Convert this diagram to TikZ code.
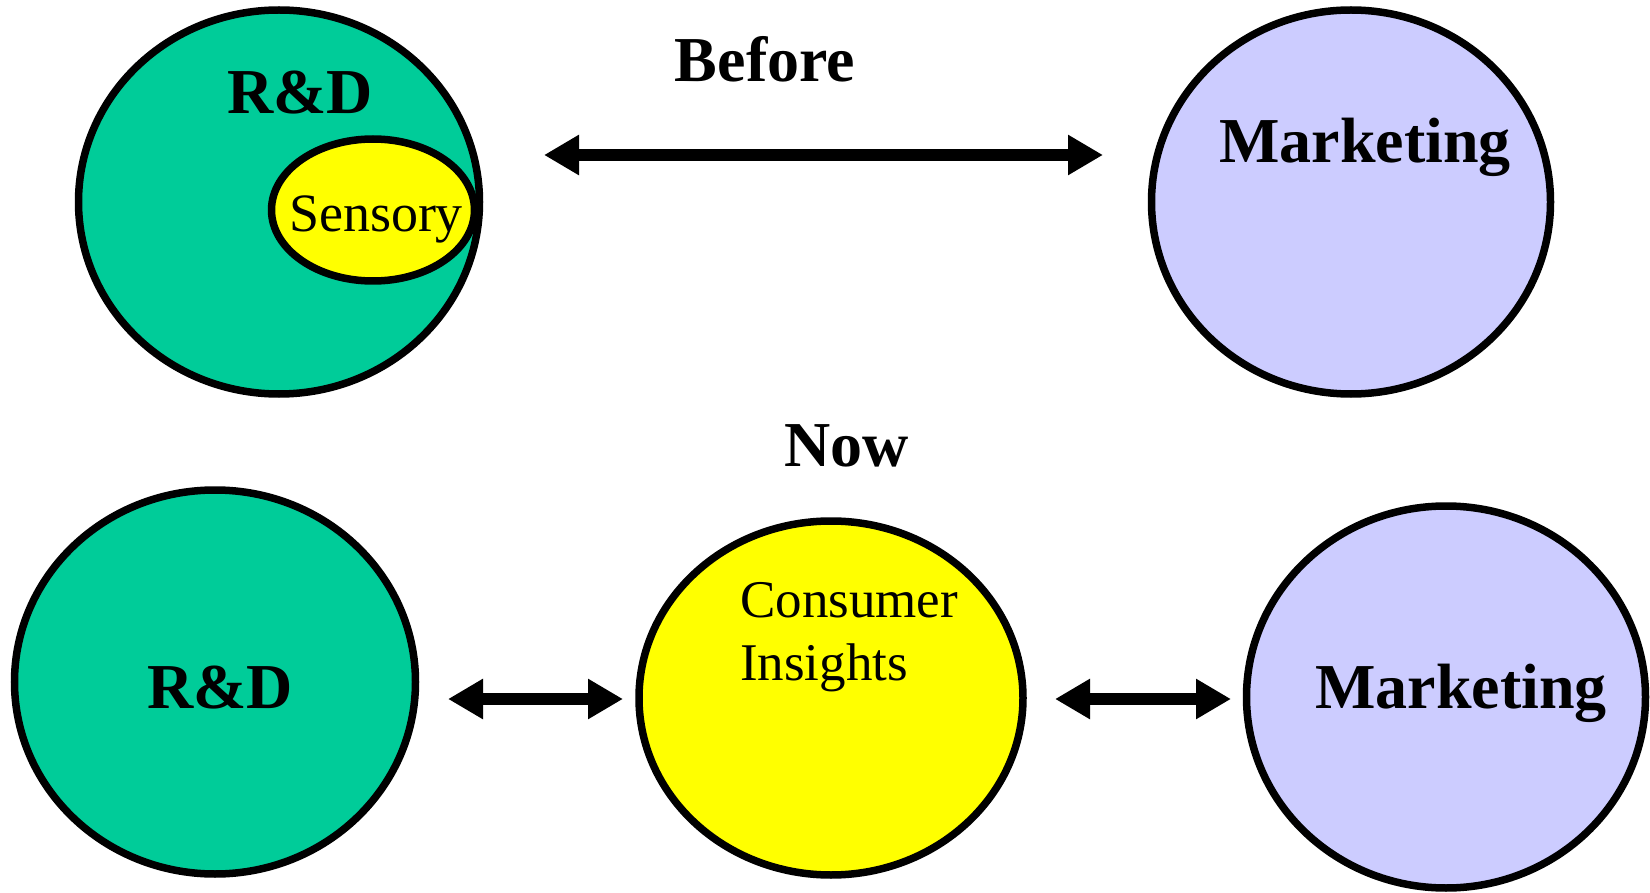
\documentclass[tikz,border=0pt]{standalone}
\usepackage{fontspec}
\setmainfont{Liberation Serif}
\usetikzlibrary{shapes.geometric,arrows.meta}
\definecolor{rdgreen}{HTML}{00CC99}
\definecolor{mklav}{HTML}{CCCCFF}
\definecolor{ciyel}{HTML}{FFFF00}
\tikzset{
  blob/.style={ellipse, draw=black, line width=7.5pt, inner sep=0pt},
  bigtext/.style={anchor=base, inner sep=0pt, font=\fontsize{64}{64}\selectfont\bfseries},
  midtext/.style={anchor=base west, inner sep=0pt, font=\fontsize{53}{63}\selectfont, align=left},
  dblarrow/.style={line width=12pt, {Triangle[length=35pt,width=38pt]}-{Triangle[length=35pt,width=38pt]}}
}
\begin{document}
\begin{tikzpicture}[x=1pt,y=-1pt]
\useasboundingbox (0,0) rectangle (1650,893);
% Before
\node[blob, fill=rdgreen, minimum width=401pt, minimum height=384pt] (rd1) at (279,202) {};
\node[blob, fill=ciyel, minimum width=203pt, minimum height=142pt] (sens) at (373,210) {};
\node[blob, fill=mklav, minimum width=399pt, minimum height=384pt] (mk1) at (1351,202) {};
\node[bigtext] (rd1t) at (300,114) {R\&D};
\node[anchor=base, inner sep=0pt, font=\fontsize{54}{54}\selectfont] (senst) at (376,232) {Sensory};
\node[bigtext] (mk1t) at (1365,163) {Marketing};
\node[bigtext] (before) at (765,82) {Before};
\coordinate (a1l) at (544,155);
\coordinate (a1r) at (1103,155);
\draw[dblarrow] (a1l) -- (a1r);
% Now
\node[bigtext] (now) at (847,466) {Now};
\node[blob, fill=rdgreen, minimum width=401pt, minimum height=384pt] (rd2) at (215,682) {};
\node[blob, fill=ciyel, minimum width=384pt, minimum height=354pt] (ci) at (831,698) {};
\node[blob, fill=mklav, minimum width=399pt, minimum height=382pt] (mk2) at (1446,697) {};
\node[bigtext] (rd2t) at (220,708) {R\&D};
\node[bigtext] (mk2t) at (1461,708) {Marketing};
\node[midtext] (cit1) at (740,617) {Consumer};
\node[midtext] (cit2) at (740,680) {Insights};
\coordinate (a2l) at (448,699);
\coordinate (a2r) at (623,699);
\coordinate (a3l) at (1055,699);
\coordinate (a3r) at (1231,699);
\draw[dblarrow] (a2l) -- (a2r);
\draw[dblarrow] (a3l) -- (a3r);
\end{tikzpicture}
\end{document}
